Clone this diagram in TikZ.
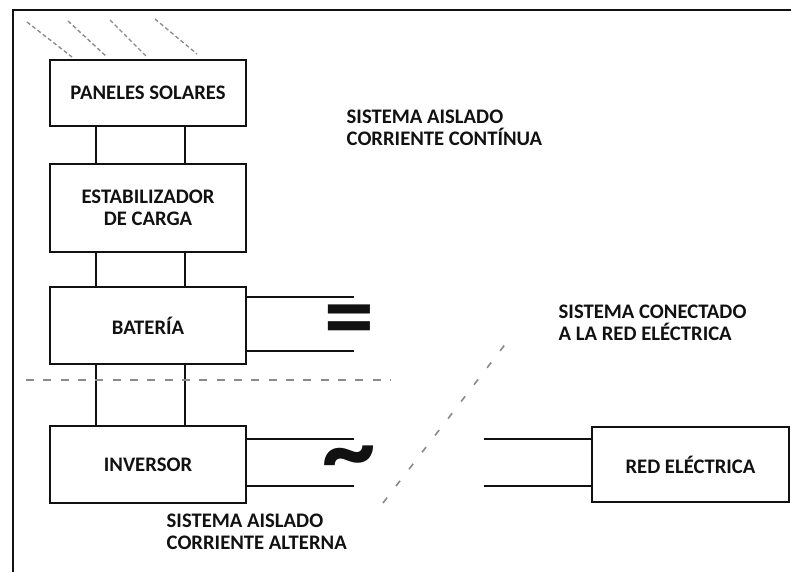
\documentclass[tikz,border=0pt]{standalone}
\usepackage{fontspec}
\setmainfont{Carlito}
\usepackage{xcolor}
\definecolor{Ink}{HTML}{111111}
\definecolor{Scan}{HTML}{8A8A8A}
\colorlet{ink}{Ink}
\colorlet{scan}{Scan}
\usepackage{tikz}
\usetikzlibrary{positioning,calc}

\begin{document}
\begin{tikzpicture}[x=0.75pt,y=-0.75pt,node distance=27pt,
  every node/.style={font=\fontsize{15.5}{16.5}\selectfont\bfseries,align=center,text=ink},
  block/.style={draw=ink,line width=1.5pt,minimum width=147pt,inner sep=0pt},
  wire/.style={ink,line width=1.5pt},
  tag/.style={anchor=west,align=left}]
\useasboundingbox (0,0) rectangle (791,572);
% frame
\draw[ink,line width=1.6pt] (13,572)--(13,10)--(791,10);
% sun rays
\draw[scan,line width=1pt,dash pattern=on 3pt off 2pt] (27,22)--(72,57) (68,21)--(107,57) (110,20)--(147,57) (155,19)--(197,54);
\node[block,minimum height=49.5pt] (panel) at (148,93) {PANELES SOLARES};
\node[block,minimum height=66pt,below=27pt of panel] (estab) {ESTABILIZADOR\\DE CARGA};
\node[block,minimum height=57.75pt,below=24.75pt of estab] (bat) {BATERÍA};
\node[block,minimum height=57.75pt,below=45pt of bat] (inv) {INVERSOR};
\node[block,minimum width=147.75pt,minimum height=56.25pt,right=258pt of inv] (red) {RED ELÉCTRICA};
\draw[wire] ([xshift=-39pt]panel.south)--([xshift=-39pt]estab.north);\draw[wire] ([xshift=28pt]panel.south)--([xshift=28pt]estab.north);
\draw[wire] ([xshift=-39pt]estab.south)--([xshift=-39pt]bat.north);\draw[wire] ([xshift=28pt]estab.south)--([xshift=28pt]bat.north);
\draw[wire] ([xshift=-39pt]bat.south)--([xshift=-39pt]inv.north);\draw[wire] ([xshift=28pt]bat.south)--([xshift=28pt]inv.north);
% direct current side
\coordinate[right=80pt of bat.east,yshift=21.4pt] (bat1);
\coordinate[right=80pt of bat.east,yshift=-19pt] (bat2);
\draw[wire] (bat.east|-bat1)--(bat1);\draw[wire] (bat.east|-bat2)--(bat2);
\node[font=\fontsize{75}{75}\selectfont\bfseries,inner sep=0pt] (dc) at (349,327) {=};
% alternating current side
\coordinate[right=80pt of inv.east,yshift=19pt] (inv1);
\coordinate[right=80pt of inv.east,yshift=-16pt] (inv2);
\draw[wire] (inv.east|-inv1)--(inv1);\draw[wire] (inv.east|-inv2)--(inv2);
\node[font=\fontsize{80}{80}\selectfont\bfseries,inner sep=0pt] (ac) at (349,466) {\char"007E};
\coordinate[left=80pt of red.west] (red0);
\coordinate (red1) at (red0|-inv1);\coordinate (red2) at (red0|-inv2);
\draw[wire] (red1)--(red.west|-red1);\draw[wire] (red2)--(red.west|-red2);
% borders between systems
\draw[scan,line width=1.2pt,dash pattern=on 6pt off 7pt] (26,380)--(391,380);
\draw[scan,line width=1.2pt,dash pattern=on 5pt off 11pt] (383,503)--(510,338);
\node[tag] (dctag) at (342,128) {SISTEMA AISLADO\\CORRIENTE CONTÍNUA};
\node[tag] (gridtag) at (554,323) {SISTEMA CONECTADO\\A LA RED ELÉCTRICA};
\node[tag] (actag) at (162,532) {SISTEMA AISLADO\\CORRIENTE ALTERNA};
\end{tikzpicture}
\end{document}
